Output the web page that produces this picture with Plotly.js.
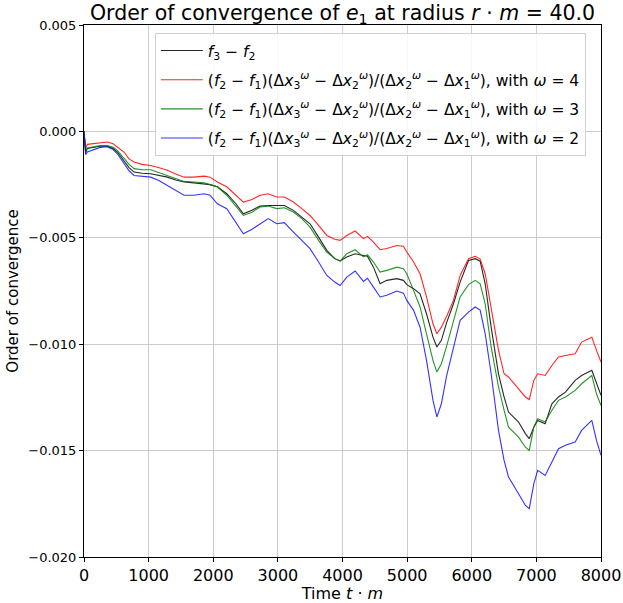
<!DOCTYPE html>
<html>
<head>
<meta charset="utf-8">
<script src="https://cdn.plot.ly/plotly-3.0.1.min.js"></script>
<style>html,body{margin:0;padding:0;background:#fff;}#chart{width:623px;height:603px;}</style>
</head>
<body>
<div id="chart"></div>
<script>
// Time t*m
var timeT = [0,25,52,150,250,361,450,516,619,697,774,900,1032,1150,1290,1420,1548,1700,1858,1950,2064,2209,2350,2466,2600,2724,2850,2983,3100,3240,3370,3498,3630,3757,3880,3963,4066,4195,4324,4386,4479,4582,4686,4840,4943,4995,5100,5200,5300,5400,5460,5530,5610,5717,5820,5950,6053,6130,6208,6300,6414,6500,6569,6724,6830,6890,6960,7020,7136,7240,7342,7450,7600,7700,7858,7930,8000];

// f3 - f2
var blackF3F2 = [0,-0.00100,-0.00080,-0.00075,-0.00070,-0.00070,-0.00080,-0.00097,-0.00140,-0.00170,-0.00191,-0.00197,-0.00199,-0.00205,-0.00215,-0.00228,-0.00238,-0.00242,-0.00246,-0.00250,-0.00260,-0.00293,-0.00340,-0.00387,-0.00370,-0.00351,-0.00348,-0.00348,-0.00348,-0.00371,-0.00402,-0.00434,-0.00497,-0.00559,-0.00598,-0.00609,-0.00590,-0.00575,-0.00583,-0.00587,-0.00638,-0.00716,-0.00700,-0.00692,-0.00700,-0.00720,-0.00739,-0.00763,-0.00857,-0.00967,-0.01013,-0.00982,-0.00900,-0.00810,-0.00708,-0.00607,-0.00598,-0.00610,-0.00716,-0.00920,-0.01139,-0.01248,-0.01319,-0.01366,-0.01420,-0.01444,-0.01390,-0.01358,-0.01374,-0.01280,-0.01248,-0.01225,-0.01170,-0.01147,-0.01123,-0.01186,-0.01240];

// omega = 4
var redW4 = [0,-0.00080,-0.00061,-0.00058,-0.00052,-0.00050,-0.00058,-0.00074,-0.00097,-0.00129,-0.00144,-0.00155,-0.00160,-0.00170,-0.00183,-0.00200,-0.00215,-0.00215,-0.00210,-0.00215,-0.00238,-0.00260,-0.00300,-0.00332,-0.00320,-0.00300,-0.00293,-0.00308,-0.00308,-0.00332,-0.00363,-0.00395,-0.00442,-0.00489,-0.00507,-0.00512,-0.00489,-0.00468,-0.00504,-0.00493,-0.00520,-0.00556,-0.00550,-0.00536,-0.00540,-0.00567,-0.00614,-0.00669,-0.00778,-0.00904,-0.00951,-0.00920,-0.00870,-0.00794,-0.00677,-0.00598,-0.00587,-0.00600,-0.00669,-0.00825,-0.01029,-0.01139,-0.01154,-0.01210,-0.01248,-0.01260,-0.01170,-0.01139,-0.01147,-0.01100,-0.01060,-0.01053,-0.01045,-0.00990,-0.00967,-0.01029,-0.01084];

// omega = 3
var greenW3 = [0,-0.00090,-0.00078,-0.00072,-0.00067,-0.00066,-0.00075,-0.00089,-0.00125,-0.00155,-0.00175,-0.00180,-0.00180,-0.00192,-0.00207,-0.00222,-0.00235,-0.00238,-0.00241,-0.00250,-0.00260,-0.00300,-0.00350,-0.00395,-0.00380,-0.00355,-0.00351,-0.00363,-0.00359,-0.00379,-0.00410,-0.00450,-0.00512,-0.00567,-0.00598,-0.00609,-0.00575,-0.00556,-0.00590,-0.00580,-0.00614,-0.00661,-0.00653,-0.00638,-0.00645,-0.00669,-0.00747,-0.00825,-0.00951,-0.01076,-0.01131,-0.01092,-0.01010,-0.00888,-0.00778,-0.00720,-0.00700,-0.00716,-0.00810,-0.01013,-0.01200,-0.01310,-0.01390,-0.01437,-0.01484,-0.01499,-0.01390,-0.01350,-0.01366,-0.01310,-0.01264,-0.01248,-0.01217,-0.01186,-0.01147,-0.01233,-0.01288];

// omega = 2
var blueW2 = [0,-0.00110,-0.00097,-0.00085,-0.00075,-0.00072,-0.00085,-0.00105,-0.00150,-0.00185,-0.00207,-0.00212,-0.00215,-0.00230,-0.00254,-0.00280,-0.00300,-0.00300,-0.00293,-0.00300,-0.00340,-0.00363,-0.00430,-0.00481,-0.00460,-0.00434,-0.00410,-0.00434,-0.00429,-0.00473,-0.00512,-0.00551,-0.00614,-0.00677,-0.00708,-0.00724,-0.00685,-0.00656,-0.00705,-0.00690,-0.00732,-0.00778,-0.00770,-0.00750,-0.00760,-0.00794,-0.00841,-0.00920,-0.01076,-0.01264,-0.01342,-0.01280,-0.01150,-0.01013,-0.00888,-0.00849,-0.00825,-0.00840,-0.00951,-0.01139,-0.01405,-0.01546,-0.01624,-0.01703,-0.01758,-0.01773,-0.01656,-0.01593,-0.01617,-0.01554,-0.01491,-0.01475,-0.01460,-0.01405,-0.01358,-0.01452,-0.01522];

var seriesNames = [
  "<i>f</i><sub>3</sub> − <i>f</i><sub>2</sub>",
  "(<i>f</i><sub>2</sub> − <i>f</i><sub>1</sub>)(Δ<i>x</i><sub>3</sub><sup><i>ω</i></sup> − Δ<i>x</i><sub>2</sub><sup><i>ω</i></sup>)/(Δ<i>x</i><sub>2</sub><sup><i>ω</i></sup> − Δ<i>x</i><sub>1</sub><sup><i>ω</i></sup>), with <i>ω</i> = 4",
  "(<i>f</i><sub>2</sub> − <i>f</i><sub>1</sub>)(Δ<i>x</i><sub>3</sub><sup><i>ω</i></sup> − Δ<i>x</i><sub>2</sub><sup><i>ω</i></sup>)/(Δ<i>x</i><sub>2</sub><sup><i>ω</i></sup> − Δ<i>x</i><sub>1</sub><sup><i>ω</i></sup>), with <i>ω</i> = 3",
  "(<i>f</i><sub>2</sub> − <i>f</i><sub>1</sub>)(Δ<i>x</i><sub>3</sub><sup><i>ω</i></sup> − Δ<i>x</i><sub>2</sub><sup><i>ω</i></sup>)/(Δ<i>x</i><sub>2</sub><sup><i>ω</i></sup> − Δ<i>x</i><sub>1</sub><sup><i>ω</i></sup>), with <i>ω</i> = 2"
];
var seriesValues = [blackF3F2, redW4, greenW3, blueW2];
var seriesColors = ["#000000", "#ff0000", "#008000", "#0000ff"];

var traces = seriesValues.map(function (vals, i) {
  return {
    x: timeT, y: vals, type: "scatter", mode: "lines",
    name: seriesNames[i],
    legendgroup: "g" + i,
    line: {color: seriesColors[i], width: 1.1},
    opacity: i === 3 ? 0.8 : 0.85
  };
});

var font = "DejaVu Sans, sans-serif";
var layout = {
  width: 623, height: 603,
  margin: {l: 84, r: 22, t: 25, b: 46},
  paper_bgcolor: "#ffffff", plot_bgcolor: "#ffffff",
  font: {family: font, color: "#000000"},
  title: {
    text: "Order of convergence of <i>e</i><sub>1</sub> at radius <i>r</i> · <i>m</i> = 40.0",
    font: {size: 20.5, family: font, color: "#000"},
    xref: "paper", x: 0.5, xanchor: "center",
    yref: "container", y: 0.979, yanchor: "middle"
  },
  xaxis: {
    range: [0, 8000], dtick: 1000, tick0: 0,
    showgrid: true, gridcolor: "#cccccc", gridwidth: 1,
    showline: true, linecolor: "#000000", linewidth: 1, mirror: true,
    ticks: "outside", ticklen: 4, tickcolor: "#000",
    tickfont: {size: 16, family: font},
    zeroline: false,
    title: {text: "Time <i>t</i> · <i>m</i>", font: {size: 16, family: font}, standoff: 2}
  },
  yaxis: {
    range: [-0.02, 0.005], dtick: 0.005, tick0: 0,
    tickformat: ".3f",
    showgrid: true, gridcolor: "#cccccc", gridwidth: 1,
    showline: true, linecolor: "#000000", linewidth: 1, mirror: true,
    ticks: "outside", ticklen: 4, tickcolor: "#000",
    tickfont: {size: 13, family: font},
    zeroline: false,
    title: {text: "Order of convergence", font: {size: 15, family: font}, standoff: 6}
  },
  legend: {
    x: 0.137, y: 0.985, xanchor: "left", yanchor: "top",
    bgcolor: "rgba(255,255,255,0.85)", bordercolor: "#d0d0d0", borderwidth: 1,
    font: {size: 15.5, family: font},
    itemwidth: 42,
    tracegroupgap: 6
  },
  showlegend: true
};

Plotly.newPlot("chart", traces, layout, {displayModeBar: false, staticPlot: true});
</script>
</body>
</html>
